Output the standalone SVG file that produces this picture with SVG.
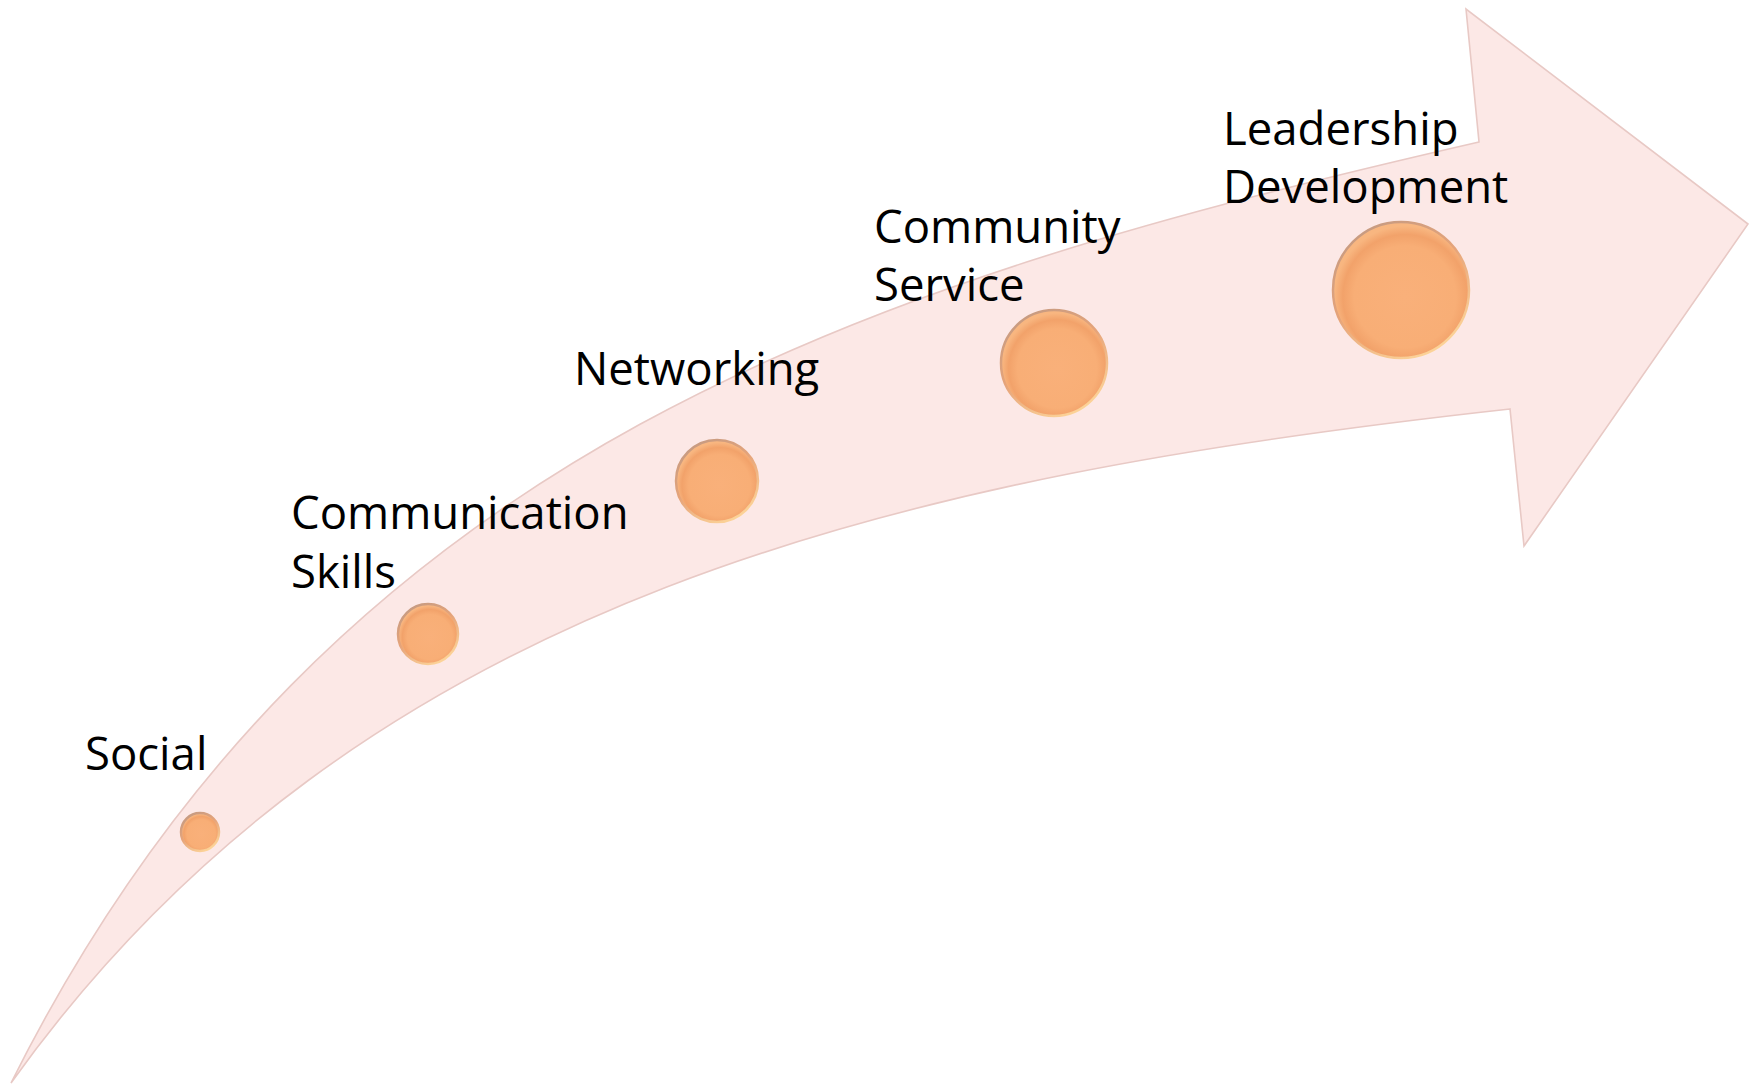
<svg xmlns="http://www.w3.org/2000/svg" width="1757" height="1089" viewBox="0 0 1757 1089">
  <defs>
    <style>
      .lbl { font-family: "Open Sans", "Liberation Sans", sans-serif; font-size: 45.5px; fill: #000000; }
      .ball { fill: url(#ballFill); stroke: url(#ballRim); stroke-width: 2.5; }
      .arrow { fill: #FCE8E6; stroke: #E8C9C5; stroke-width: 1.6; stroke-linejoin: miter; }
    </style>
    <radialGradient id="ballFill" cx="0.53" cy="0.55" r="0.52">
      <stop offset="0" stop-color="#F9B07A"/>
      <stop offset="0.72" stop-color="#F8AE76"/>
      <stop offset="0.88" stop-color="#F2A26A"/>
      <stop offset="1" stop-color="#F8B680"/>
    </radialGradient>
    <linearGradient id="ballRim" x1="0.2" y1="0" x2="0.8" y2="1">
      <stop offset="0" stop-color="#C49A82"/>
      <stop offset="0.45" stop-color="#E6A47A"/>
      <stop offset="1" stop-color="#FFD99C"/>
    </linearGradient>
  </defs>

  <rect x="0" y="0" width="1757" height="1089" fill="#FFFFFF"/>

  <g id="connectors">
    <path id="growth-arrow" class="arrow" d="M 11,1083
      C 331,443 879,280 1479,142
      L 1466,9 L 1748,224 L 1524,546 L 1510,409
      C 910,475 361,593 11,1083 Z"/>
  </g>

  <g id="node-social">
    <circle class="ball" cx="200" cy="832" r="19"/>
    <text class="lbl" x="85" y="770">Social</text>
  </g>

  <g id="node-communication">
    <circle class="ball" cx="428" cy="634" r="30"/>
    <text class="lbl" x="291" y="529">Communication</text>
    <text class="lbl" x="291" y="588">Skills</text>
  </g>

  <g id="node-networking">
    <circle class="ball" cx="717" cy="481" r="41"/>
    <text class="lbl" x="574" y="385">Networking</text>
  </g>

  <g id="node-community">
    <circle class="ball" cx="1054" cy="363" r="53"/>
    <text class="lbl" x="874" y="243">Community</text>
    <text class="lbl" x="874" y="301">Service</text>
  </g>

  <g id="node-leadership">
    <circle class="ball" cx="1401" cy="290" r="68"/>
    <text class="lbl" x="1223" y="145">Leadership</text>
    <text class="lbl" x="1223" y="203">Development</text>
  </g>
</svg>
